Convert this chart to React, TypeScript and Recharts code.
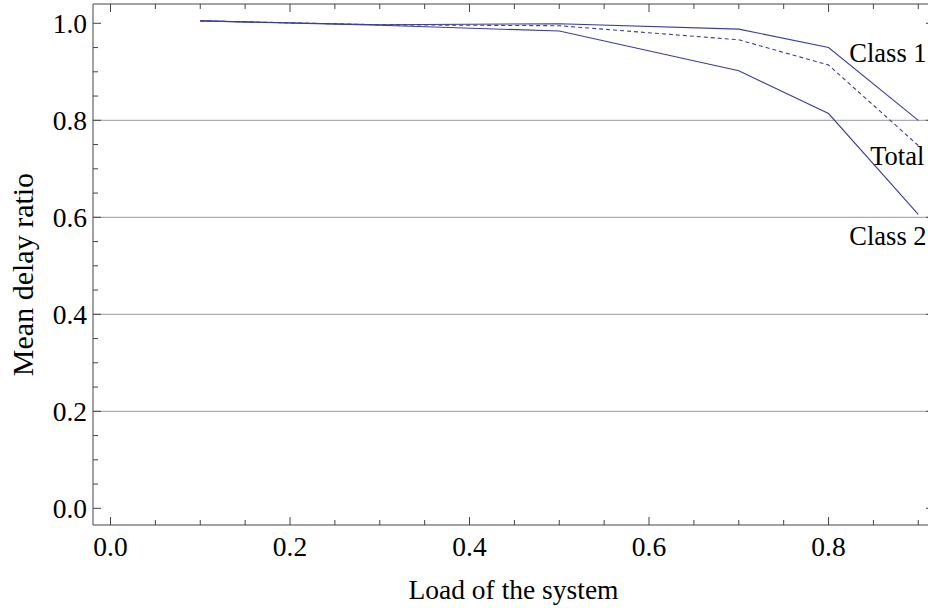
import React from "react";
import { LineChart, Line, XAxis, YAxis, ReferenceLine, LabelList } from "recharts";

const loads = [0.1, 0.3, 0.5, 0.7, 0.8, 0.9];
const class1 = [1.005, 0.997, 0.999, 0.988, 0.95, 0.8];
const total = [1.005, 0.997, 0.995, 0.966, 0.914, 0.748];
const class2 = [1.005, 0.996, 0.984, 0.902, 0.814, 0.606];

const xTicks = [0, 0.05, 0.1, 0.15, 0.2, 0.25, 0.3, 0.35, 0.4, 0.45, 0.5, 0.55, 0.6, 0.65, 0.7, 0.75, 0.8, 0.85, 0.9];
const yTicks = [0, 0.05, 0.1, 0.15, 0.2, 0.25, 0.3, 0.35, 0.4, 0.45, 0.5, 0.55, 0.6, 0.65, 0.7, 0.75, 0.8, 0.85, 0.9, 0.95, 1.0];
const gridY = [0.2, 0.4, 0.6, 0.8];

const data = loads.map((l, i) => ({ load: l, class1: class1[i], total: total[i], class2: class2[i] }));

const FONT = "'Liberation Serif', 'Times New Roman', serif";
const FS = 27.5;
const LFS = 26.5;
const LINE = "#3d3d99";
const FRAME = "#444444";
const GRID = "#999999";
const MAJ = 8;
const MIN = 5;

const isMajor = (v: number) => Math.abs(v / 0.2 - Math.round(v / 0.2)) < 1e-6;

const BottomTick = (props: any) => {
  const { x, y, payload } = props;
  const v = payload.value;
  const maj = isMajor(v);
  return (
    <g>
      <line x1={x} x2={x} y1={y} y2={y - (maj ? MAJ : MIN)} stroke={FRAME} strokeWidth={1} />
      {maj && (
        <text x={x} y={y + 31} textAnchor="middle" fontFamily={FONT} fontSize={FS} fill="#000">
          {v.toFixed(1)}
        </text>
      )}
    </g>
  );
};

const TopTick = (props: any) => {
  const { x, y, payload } = props;
  const maj = isMajor(payload.value);
  return <line x1={x} x2={x} y1={y} y2={y + (maj ? MAJ : MIN)} stroke={FRAME} strokeWidth={1} />;
};

const LeftTick = (props: any) => {
  const { x, y, payload } = props;
  const v = payload.value;
  const maj = isMajor(v);
  return (
    <g>
      <line x1={x} x2={x + (maj ? MAJ : MIN)} y1={y} y2={y} stroke={FRAME} strokeWidth={1} />
      {maj && (
        <text x={x - 6} y={y + 9.5} textAnchor="end" fontFamily={FONT} fontSize={FS} fill="#000">
          {v.toFixed(1)}
        </text>
      )}
    </g>
  );
};

const RightTick = (props: any) => {
  const { x, y, payload } = props;
  const maj = isMajor(payload.value);
  return <line x1={x} x2={x - (maj ? MAJ : MIN)} y1={y} y2={y} stroke={FRAME} strokeWidth={1} />;
};

const makeEndLabel = (text: string, dx: number, dy: number) => (props: any) => {
  const { x, y, index } = props;
  if (index !== loads.length - 1) return null;
  return (
    <text x={x + dx} y={y + dy} fontFamily={FONT} fontSize={LFS} fill="#000">
      {text}
    </text>
  );
};

const XLabel = (props: any) => {
  const vb = props.viewBox;
  return (
    <text x={vb.x + vb.width / 2} y={vb.y + 74} textAnchor="middle" fontFamily={FONT} fontSize={FS} fill="#000">
      Load of the system
    </text>
  );
};

const YLabel = (props: any) => {
  const vb = props.viewBox;
  const x = vb.x + vb.width - 60;
  const y = vb.y + vb.height / 2 + 10;
  return (
    <text x={x} y={y} transform={`rotate(-90, ${x}, ${y})`} textAnchor="middle" fontFamily={FONT} fontSize={30} fill="#000">
      Mean delay ratio
    </text>
  );
};

export default function App() {
  const W = 960;
  return (
    <div style={{ position: "absolute", left: 0, top: 0, width: 928, height: 608, overflow: "hidden", background: "#fff" }}>
      <LineChart width={W} height={608} data={data} margin={{ top: 3, left: 92, right: W - 935, bottom: 82 }}>
        <XAxis
          xAxisId="b"
          dataKey="load"
          type="number"
          domain={[-0.0195, 0.9175]}
          ticks={xTicks}
          interval={0}
          height={1}
          tickSize={0}
          tickMargin={0}
          tickLine={false}
          tick={BottomTick}
          axisLine={{ stroke: FRAME, strokeWidth: 1 }}
          allowDataOverflow
          label={XLabel}
        />
        <XAxis
          xAxisId="t"
          orientation="top"
          dataKey="load"
          type="number"
          domain={[-0.0195, 0.9175]}
          ticks={xTicks}
          interval={0}
          height={1}
          tickSize={0}
          tickMargin={0}
          tickLine={false}
          tick={TopTick}
          axisLine={{ stroke: FRAME, strokeWidth: 1 }}
          allowDataOverflow
        />
        <YAxis
          yAxisId="l"
          type="number"
          domain={[-0.0344, 1.0398]}
          ticks={yTicks}
          interval={0}
          width={1}
          tickSize={0}
          tickMargin={0}
          tickLine={false}
          tick={LeftTick}
          axisLine={{ stroke: FRAME, strokeWidth: 1 }}
          allowDataOverflow
          label={YLabel}
        />
        <YAxis
          yAxisId="r"
          orientation="right"
          type="number"
          domain={[-0.0344, 1.0398]}
          ticks={yTicks}
          interval={0}
          width={1}
          tickSize={0}
          tickMargin={0}
          tickLine={false}
          tick={RightTick}
          axisLine={{ stroke: FRAME, strokeWidth: 1 }}
          allowDataOverflow
        />
        {gridY.map((g) => (
          <ReferenceLine key={g} xAxisId="b" yAxisId="l" y={g} stroke={GRID} strokeWidth={1} />
        ))}
        <Line xAxisId="b" yAxisId="l" type="linear" dataKey="class1" stroke={LINE} strokeWidth={1.1} dot={false} isAnimationActive={false}>
          <LabelList dataKey="class1" content={makeEndLabel("Class 1", -69, -58)} />
        </Line>
        <Line xAxisId="b" yAxisId="l" type="linear" dataKey="total" stroke={LINE} strokeWidth={1.1} strokeDasharray="4 3" dot={false} isAnimationActive={false}>
          <LabelList dataKey="total" content={makeEndLabel("Total", -48, 19)} />
        </Line>
        <Line xAxisId="b" yAxisId="l" type="linear" dataKey="class2" stroke={LINE} strokeWidth={1.1} dot={false} isAnimationActive={false}>
          <LabelList dataKey="class2" content={makeEndLabel("Class 2", -69, 31)} />
        </Line>
      </LineChart>
    </div>
  );
}
